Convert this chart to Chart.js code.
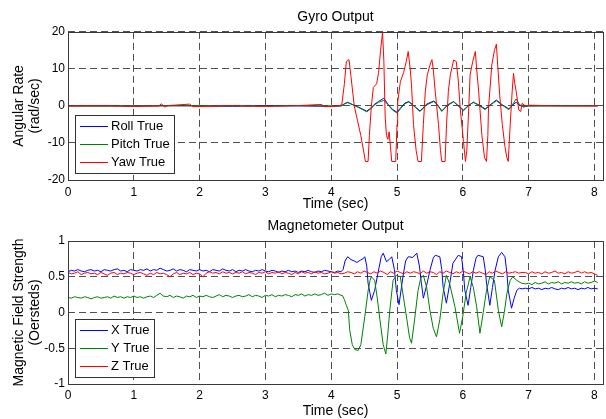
<!DOCTYPE html>
<html>
<head>
<meta charset="utf-8">
<script src="https://cdn.jsdelivr.net/npm/chart.js@4.4.1/dist/chart.umd.min.js"></script>
<style>
  body { margin: 0; background: #fff; }
  #wrap { position: relative; width: 606px; height: 419px; }
  canvas { position: absolute; left: 0; }
  #gyro-chart { top: 0; }
  #mag-chart { top: 210px; }
</style>
</head>
<body>
<div id="wrap">
  <canvas id="gyro-chart" width="606" height="212"></canvas>
  <canvas id="mag-chart" width="606" height="209"></canvas>
</div>
<script>
// GYRO DATA (time in sec, rate in rad/sec)
const gyroTime = [0, 0.5, 1, 1.5, 2, 2.5, 3, 3.5, 4, 4.15,
  4.2, 4.25, 4.3, 4.35, 4.4, 4.47, 4.54, 4.6, 4.66, 4.72,
  4.8, 4.86, 4.93, 5, 5.06, 5.12, 5.18, 5.26, 5.35, 5.45,
  5.56, 5.62, 5.68, 5.77, 5.86, 5.93, 6.01, 6.09, 6.16, 6.25,
  6.34, 6.43, 6.51, 6.6, 6.7, 6.76, 6.81, 6.86, 6.92, 7,
  7.5, 8.05]
const rollRate = [0, 0.1, -0.1, 0.1, 0, -0.1, 0.1, 0, -0.1, 0,
  0.6, 1.0, 0.5, 0.2, -0.2, -0.8, -1.4, -0.6, 0.5, 1.2,
  2.1, 0.5, -0.9, -1.7, -0.4, 0.8, 1.2, 0, -1.35, 0.5,
  1.35, 0.2, -1.35, 0.3, 1.2, 0.1, -1.1, 0.2, 1.0, 0.2,
  -0.8, 0.5, 1.6, 0.3, -0.8, 0.3, 1.0, 0.2, -0.2, 0,
  0.1, 0]
const pitchRate = [0, -0.1, 0.1, 0, 0.1, 0, -0.1, 0.1, 0, 0,
  0.5, 0.9, 0.6, 0.1, -0.3, -0.9, -1.6, -0.8, 0.3, 1.0,
  1.5, 0.4, -1.1, -1.9, -0.6, 0.6, 1.1, -0.1, -1.5, 0.3,
  1.2, 0.1, -1.5, 0.2, 1.1, 0, -1.3, 0.1, 1.0, 0.1,
  -1.0, 0.4, 1.4, 0.2, -1.0, 0.5, 1.9, 0.4, -0.3, 0,
  0, 0.1]

const yawTime = [0, 0.5, 1, 1.38, 1.42, 1.47, 1.52, 1.85, 1.9, 2.5,
  3, 3.5, 3.85, 3.9, 4.1, 4.16, 4.2, 4.23, 4.27, 4.3,
  4.35, 4.4, 4.45, 4.5, 4.52, 4.56, 4.58, 4.61, 4.64, 4.69,
  4.72, 4.75, 4.78, 4.8, 4.82, 4.84, 4.86, 4.88, 4.9, 4.92,
  4.98, 5, 5.01, 5.05, 5.1, 5.14, 5.17, 5.2, 5.22, 5.25,
  5.29, 5.32, 5.37, 5.4, 5.43, 5.46, 5.5, 5.53, 5.55, 5.58,
  5.63, 5.66, 5.68, 5.73, 5.75, 5.78, 5.81, 5.86, 5.9, 5.93,
  5.96, 6.01, 6.04, 6.06, 6.09, 6.11, 6.15, 6.19, 6.21, 6.24,
  6.29, 6.33, 6.36, 6.38, 6.39, 6.44, 6.48, 6.51, 6.53, 6.56,
  6.6, 6.64, 6.67, 6.69, 6.72, 6.75, 6.77, 6.79, 6.81, 6.85,
  6.88, 6.9, 6.95, 7, 7.5, 8.05]
const yawRate = [0, 0.1, -0.1, 0, 0.6, -0.3, 0.1, 0.5, -0.2, 0.1,
  -0.1, 0.1, 0.4, -0.2, 0, 0.3, 6, 12, 12.5, 8,
  0, -4, -8, -13, -15, -15, -8, 0, 5, 6,
  9, 15, 20, 12, -3, -8, -9, -7, -11, -15,
  -15, -5, 1, 6.5, 9, 12, 14.7, 10, 5.7, -5,
  -12, -15, -15, -5, 4, 8.4, 11, 12.5, 10, 4,
  -5, -12, -15, -15, -6, 4, 8.4, 12.4, 12, 7,
  -0.6, -9.6, -15, -12, -0.6, 8.4, 12, 14.7, 10, 4,
  -8, -14, -15, -8, -0.6, 11, 15, 16.7, 11, 3,
  -5, -11, -14, -15, -5, 4, 8.8, 6, 4, -1.1,
  -1.5, 0.7, 0, 0.2, 0, 0]

// MAGNETOMETER DATA (Oersteds)
const quietTime = [0, 0.05, 0.1, 0.15, 0.2, 0.25, 0.3, 0.35, 0.4, 0.45,
  0.5, 0.55, 0.6, 0.65, 0.7, 0.75, 0.8, 0.85, 0.9, 0.95,
  1, 1.05, 1.1, 1.15, 1.2, 1.25, 1.3, 1.35, 1.4, 1.45,
  1.5, 1.55, 1.6, 1.65, 1.7, 1.75, 1.8, 1.85, 1.9, 1.95,
  2, 2.05, 2.1, 2.15, 2.2, 2.25, 2.3, 2.35, 2.4, 2.45,
  2.5, 2.55, 2.6, 2.65, 2.7, 2.75, 2.8, 2.85, 2.9, 2.95,
  3, 3.05, 3.1, 3.15, 3.2, 3.25, 3.3, 3.35, 3.4, 3.45,
  3.5, 3.55, 3.6, 3.65, 3.7, 3.75, 3.8, 3.85, 3.9, 3.95,
  4, 4.05, 4.1, 4.15]
const midTime = [4.2, 4.25, 4.3, 4.35, 4.4, 4.45, 4.5, 4.55, 4.6, 4.65,
  4.7, 4.75, 4.8, 4.85, 4.9, 4.95, 5, 5.05, 5.1, 5.15,
  5.2, 5.25, 5.3, 5.35, 5.4, 5.45, 5.5, 5.55, 5.6, 5.65,
  5.7, 5.75, 5.8, 5.85, 5.9, 5.95, 6, 6.05, 6.1, 6.15,
  6.2, 6.25, 6.3, 6.35, 6.4, 6.45, 6.5, 6.55, 6.6, 6.65,
  6.7, 6.75, 6.8, 6.85, 6.9]
const tailTime = [6.95, 7, 7.05, 7.1, 7.15, 7.2, 7.25, 7.3, 7.35, 7.4,
  7.45, 7.5, 7.55, 7.6, 7.65, 7.7, 7.75, 7.8, 7.85, 7.9,
  7.95, 8, 8.05]

const xQuiet = [0.57, 0.59, 0.58, 0.6, 0.58, 0.57, 0.59, 0.6, 0.58, 0.59,
  0.57, 0.6, 0.59, 0.58, 0.6, 0.61, 0.58, 0.59, 0.57, 0.6,
  0.59, 0.58, 0.6, 0.59, 0.61, 0.58, 0.6, 0.59, 0.62, 0.6,
  0.58, 0.59, 0.61, 0.58, 0.6, 0.59, 0.57, 0.6, 0.59, 0.58,
  0.6, 0.58, 0.59, 0.57, 0.6, 0.59, 0.58, 0.61, 0.59, 0.58,
  0.6, 0.57, 0.59, 0.58, 0.6, 0.58, 0.57, 0.59, 0.58, 0.6,
  0.58, 0.57, 0.59, 0.58, 0.56, 0.58, 0.57, 0.59, 0.57, 0.58,
  0.56, 0.58, 0.57, 0.59, 0.57, 0.56, 0.58, 0.57, 0.59, 0.58,
  0.57, 0.56, 0.58, 0.57]
const xActiveTime = [4.18, 4.21, 4.25, 4.3, 4.35, 4.39, 4.44, 4.48, 4.51, 4.54,
  4.56, 4.61, 4.66, 4.71, 4.76, 4.79, 4.84, 4.88, 4.92, 4.96,
  4.99, 5.03, 5.09, 5.13, 5.17, 5.24, 5.3, 5.34, 5.37, 5.4,
  5.45, 5.5, 5.55, 5.58, 5.65, 5.68, 5.7, 5.75, 5.8, 5.85,
  5.93, 5.98, 6.01, 6.03, 6.08, 6.12, 6.16, 6.2, 6.23, 6.31,
  6.34, 6.36, 6.41, 6.45, 6.49, 6.54, 6.59, 6.64, 6.67, 6.69,
  6.74, 6.78, 6.82, 6.86, 6.9]
const xActive = [0.6, 0.72, 0.78, 0.74, 0.72, 0.7, 0.73, 0.75, 0.78, 0.65,
  0.41, 0.17, 0.31, 0.55, 0.78, 0.83, 0.71, 0.74, 0.78, 0.6,
  0.31, 0.11, 0.5, 0.72, 0.78, 0.77, 0.83, 0.65, 0.41, 0.2,
  0.38, 0.59, 0.76, 0.8, 0.78, 0.6, 0.36, 0.13, 0.4, 0.69,
  0.8, 0.78, 0.55, 0.31, 0.1, 0.35, 0.59, 0.76, 0.8, 0.78,
  0.6, 0.41, 0.1, 0.35, 0.59, 0.78, 0.84, 0.78, 0.55, 0.31,
  0.06, 0.2, 0.31, 0.34, 0.33]
const xTail = [0.34, 0.33, 0.35, 0.33, 0.34, 0.32, 0.34, 0.33, 0.35, 0.33,
  0.32, 0.34, 0.33, 0.35, 0.33, 0.34, 0.32, 0.34, 0.33, 0.35,
  0.33, 0.34, 0.33]

const yQuiet = [0.21, 0.2, 0.22, 0.21, 0.2, 0.22, 0.21, 0.19, 0.21, 0.22,
  0.2, 0.21, 0.22, 0.2, 0.23, 0.21, 0.22, 0.2, 0.22, 0.21,
  0.23, 0.21, 0.22, 0.2, 0.22, 0.23, 0.21, 0.24, 0.27, 0.23,
  0.22, 0.24, 0.21, 0.23, 0.22, 0.2, 0.23, 0.22, 0.24, 0.21,
  0.23, 0.22, 0.24, 0.22, 0.21, 0.23, 0.25, 0.22, 0.24, 0.23,
  0.21, 0.23, 0.24, 0.22, 0.23, 0.25, 0.22, 0.24, 0.23, 0.21,
  0.24, 0.23, 0.25, 0.22, 0.24, 0.23, 0.25, 0.24, 0.22, 0.25,
  0.24, 0.26, 0.23, 0.25, 0.24, 0.26, 0.24, 0.25, 0.27, 0.24,
  0.26, 0.25, 0.26, 0.24]
const yActiveTime = [4.17, 4.2, 4.23, 4.26, 4.28, 4.32, 4.36, 4.41, 4.45, 4.51,
  4.56, 4.59, 4.61, 4.66, 4.7, 4.74, 4.79, 4.83, 4.86, 4.89,
  4.94, 4.99, 5.05, 5.1, 5.15, 5.19, 5.22, 5.26, 5.32, 5.36,
  5.4, 5.45, 5.5, 5.55, 5.6, 5.65, 5.7, 5.75, 5.8, 5.88,
  5.95, 6.0, 6.05, 6.11, 6.16, 6.21, 6.26, 6.31, 6.36, 6.41,
  6.48, 6.54, 6.59, 6.63, 6.67, 6.72, 6.76, 6.82, 6.89]
const yActive = [0.24, 0.18, 0.1, 0.03, -0.24, -0.45, -0.52, -0.53, -0.45, -0.06,
  0.3, 0.45, 0.5, 0.45, 0.2, -0.1, -0.45, -0.58, -0.3, 0.03,
  0.45, 0.52, 0.5, 0.2, -0.1, -0.35, -0.43, -0.15, 0.31, 0.48,
  0.52, 0.35, 0.03, -0.22, -0.34, -0.1, 0.27, 0.52, 0.4, 0.08,
  -0.29, -0.05, 0.27, 0.5, 0.35, 0.08, -0.29, 0.0, 0.31, 0.5,
  0.45, 0.03, -0.2, 0.0, 0.27, 0.45, 0.5, 0.45, 0.41]
const yTail = [0.4, 0.41, 0.39, 0.42, 0.4, 0.41, 0.43, 0.4, 0.42, 0.41,
  0.43, 0.4, 0.42, 0.41, 0.43, 0.41, 0.42, 0.4, 0.43, 0.41,
  0.42, 0.44, 0.42]

const zQuiet = [0.56, 0.54, 0.55, 0.57, 0.53, 0.55, 0.56, 0.54, 0.55, 0.53,
  0.56, 0.54, 0.52, 0.55, 0.56, 0.53, 0.55, 0.54, 0.56, 0.55,
  0.53, 0.55, 0.56, 0.54, 0.52, 0.55, 0.53, 0.56, 0.54, 0.55,
  0.53, 0.5, 0.54, 0.56, 0.53, 0.55, 0.54, 0.56, 0.53, 0.55,
  0.54, 0.5, 0.55, 0.57, 0.55, 0.56, 0.54, 0.57, 0.55, 0.56,
  0.54, 0.56, 0.55, 0.57, 0.54, 0.56, 0.55, 0.53, 0.56, 0.55,
  0.57, 0.54, 0.56, 0.55, 0.57, 0.54, 0.56, 0.55, 0.53, 0.56,
  0.54, 0.57, 0.55, 0.56, 0.54, 0.57, 0.55, 0.56, 0.54, 0.55,
  0.57, 0.55, 0.56, 0.54]
const zMid = [0.55, 0.57, 0.56, 0.54, 0.57, 0.55, 0.58, 0.56, 0.54, 0.57,
  0.55, 0.58, 0.56, 0.53, 0.57, 0.55, 0.58, 0.56, 0.54, 0.57,
  0.55, 0.57, 0.56, 0.54, 0.58, 0.55, 0.57, 0.56, 0.53, 0.57,
  0.55, 0.58, 0.56, 0.54, 0.57, 0.55, 0.58, 0.56, 0.54, 0.57,
  0.55, 0.57, 0.55, 0.53, 0.57, 0.55, 0.58, 0.56, 0.54, 0.57,
  0.55, 0.56, 0.57, 0.55, 0.56]
const zTail = [0.56, 0.54, 0.57, 0.55, 0.56, 0.54, 0.57, 0.55, 0.56, 0.58,
  0.55, 0.56, 0.54, 0.57, 0.55, 0.56, 0.58, 0.55, 0.57, 0.55,
  0.56, 0.54, 0.52]

// line colours
const BLUE = "#0000ff"
const GREEN = "#008000"
const RED = "#ff0000"

// HELPERS
function toPoints(times, values) {
  return times.map((t, i) => ({ x: t, y: values[i] }))
}

const FONT = '"Liberation Sans", Arial, Helvetica, sans-serif'

// draws the axes box and a MATLAB style legend inside the plot area
const matlabBox = {
  id: "matlabBox",
  afterDatasetsDraw(chart, args, opts) {
    const ctx = chart.ctx
    const a = chart.chartArea
    ctx.save()
    ctx.setLineDash([])
    ctx.strokeStyle = "#3a3a3a"
    ctx.lineWidth = 1
    ctx.strokeRect(Math.round(a.left) + 0.5, Math.round(a.top) + 0.5,
      Math.round(a.right - a.left), Math.round(a.bottom - a.top))

    // legend
    ctx.font = "13px " + FONT
    const sets = chart.data.datasets
    const textW = Math.max(...sets.map((d) => ctx.measureText(d.label).width))
    const boxW = Math.round(36 + textW + 4)
    const boxH = 58
    const left = Math.round(a.left + opts.legendLeft)
    const top = Math.round(a.bottom - opts.legendBottom - boxH)
    ctx.fillStyle = "#fff"
    ctx.fillRect(left, top, boxW, boxH)
    ctx.strokeStyle = "#333"
    ctx.strokeRect(left + 0.5, top + 0.5, boxW, boxH)
    ctx.textBaseline = "middle"
    sets.forEach((d, i) => {
      const y = top + 11 + i * 18
      ctx.fillStyle = opts.colors[i]
      ctx.fillRect(left + 5, y, 28, 1)
      ctx.fillStyle = "#000"
      ctx.fillText(d.label, left + 36, y + 0.5)
    })
    ctx.restore()
  },
}

function makeOptions(title, yTitle, yMin, yMax, yStep, xHeight, titlePad, tickPad) {
  return {
    responsive: false,
    animation: false,
    events: [],
    layout: { padding: { left: 0, right: 3, top: 0, bottom: 0 } },
    elements: { point: { radius: 0 }, line: { borderWidth: 1, tension: 0 } },
    scales: {
      x: {
        type: "linear",
        min: 0,
        max: 8.13,
        afterFit(scale) {
          scale.height = xHeight
        },
        ticks: {
          stepSize: 1,
          includeBounds: false,
          autoSkip: false,
          maxRotation: 0,
          padding: tickPad,
          color: "#000",
          font: { family: FONT, size: 12 },
        },
        grid: { color: "#505050", drawTicks: false, lineWidth: 1 },
        border: { display: false, dash: [7, 4] },
        title: {
          display: true,
          text: "Time (sec)",
          color: "#000",
          font: { family: FONT, size: 14, lineHeight: 1.1 },
          padding: { top: 0, bottom: 0 },
        },
      },
      y: {
        min: yMin,
        max: yMax,
        afterFit(scale) {
          scale.width = 68
        },
        ticks: {
          stepSize: yStep,
          padding: 3,
          color: "#000",
          font: { family: FONT, size: 12 },
          callback: (v) => String(v),
        },
        grid: { color: "#505050", drawTicks: false, lineWidth: 1 },
        border: { display: false, dash: [7, 4] },
        title: {
          display: true,
          text: yTitle,
          color: "#000",
          font: { family: FONT, size: 14, lineHeight: 1.15 },
          padding: { top: 11, bottom: 0 },
        },
      },
    },
    plugins: {
      legend: { display: false },
      tooltip: { enabled: false },
      title: {
        display: true,
        text: title,
        fullSize: false,
        color: "#000",
        font: { family: FONT, size: 14, weight: "normal", lineHeight: 1.1 },
        padding: titlePad,
      },
      matlabBox: { legendLeft: 7, legendBottom: 7, colors: [BLUE, GREEN, RED] },
    },
  }
}

// GYRO CHART
const gyroCanvas = document.getElementById("gyro-chart")
const gyroChart = new Chart(gyroCanvas, {
  type: "line",
  data: {
    datasets: [
      { label: "Roll True", data: toPoints(gyroTime, rollRate), borderColor: BLUE, order: 2 },
      { label: "Pitch True", data: toPoints(gyroTime, pitchRate), borderColor: GREEN, order: 1 },
      { label: "Yaw True", data: toPoints(yawTime, yawRate), borderColor: RED, order: 0 },
    ],
  },
  options: makeOptions("Gyro Output", ["Angular Rate", "(rad/sec)"], -20, 20, 10, 32,
    { top: 9.5, bottom: 7 }, 5),
  plugins: [matlabBox],
})

// MAGNETOMETER CHART
const magCanvas = document.getElementById("mag-chart")
const magChart = new Chart(magCanvas, {
  type: "line",
  data: {
    datasets: [
      {
        label: "X True",
        data: [...toPoints(quietTime, xQuiet), ...toPoints(xActiveTime, xActive), ...toPoints(tailTime, xTail)],
        borderColor: BLUE,
        order: 2,
      },
      {
        label: "Y True",
        data: [...toPoints(quietTime, yQuiet), ...toPoints(yActiveTime, yActive), ...toPoints(tailTime, yTail)],
        borderColor: GREEN,
        order: 1,
      },
      {
        label: "Z True",
        data: [...toPoints(quietTime, zQuiet), ...toPoints(midTime, zMid), ...toPoints(tailTime, zTail)],
        borderColor: RED,
        order: 0,
      },
    ],
  },
  options: makeOptions("Magnetometer Output", ["Magnetic Field Strength", "(Oersteds)"], -1, 1, 0.5, 35,
    { top: 8, bottom: 7.6 }, 4),
  plugins: [matlabBox],
})
</script>
</body>
</html>
